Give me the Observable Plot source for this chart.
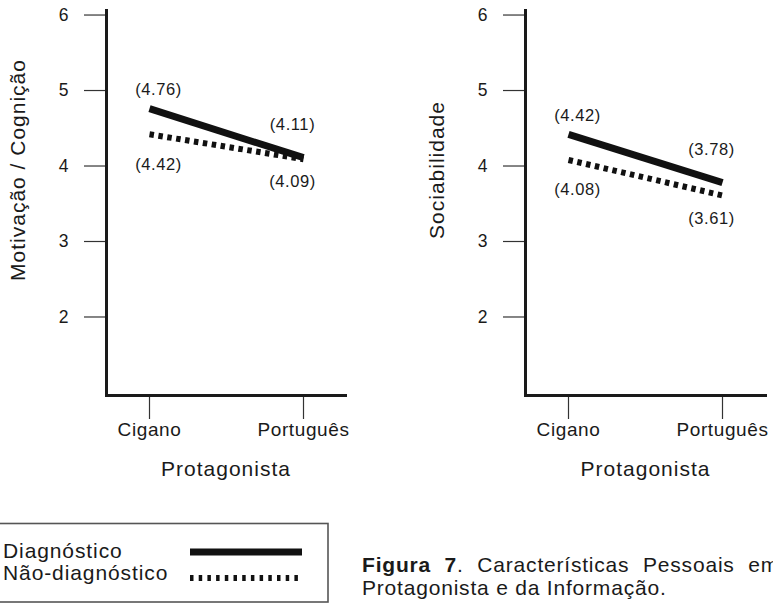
<!DOCTYPE html>
<html>
<head>
<meta charset="utf-8">
<script src="https://cdn.jsdelivr.net/npm/d3@7"></script>
<script src="https://cdn.jsdelivr.net/npm/@observablehq/plot@0.6"></script>
<style>
  body { margin: 0; background: #fff; }
  #root { position: relative; width: 773px; height: 610px; overflow: hidden;
          font-family: "Liberation Sans", Arial, Helvetica, sans-serif; color: #1a1a1a; }
  .panel { position: absolute; top: 0; }
  .panel svg { overflow: visible; }
  .leg text { letter-spacing: 0.9px; }
  .cap text { letter-spacing: 0.8px; }
</style>
</head>
<body>
<div id="root"></div>
<script>
// ---- data ----
const categories = ["Cigano", "Português"];
const conditions = ["Diagnóstico", "Não-diagnóstico"];
const yTicks = [2, 3, 4, 5, 6];
const xTitle = "Protagonista";
const panelTitles = ["Motivação / Cognição", "Sociabilidade"];
const motivacaoDiag = [4.76, 4.11];
const motivacaoNaoDiag = [4.42, 4.09];
const sociabilidadeDiag = [4.42, 3.78];
const sociabilidadeNaoDiag = [4.08, 3.61];
const captionBold = "Figura 7";
const captionLine1 = ". Características Pessoais em";
const captionLine2 = "Protagonista e da Informação.";

const FONT = '"Liberation Sans", Arial, Helvetica, sans-serif';
const INK = "#1a1a1a";

function panel(title, diag, naoDiag, width, marginRight) {
  const rows = categories.flatMap((c, i) => [
    {cat: c, cond: conditions[0], value: diag[i]},
    {cat: c, cond: conditions[1], value: naoDiag[i]}
  ]);
  const D = rows.filter(d => d.cond === conditions[0]);
  const N = rows.filter(d => d.cond === conditions[1]);
  const at = (arr, cat) => arr.filter(d => d.cat === cat);
  const fmt = d => `(${d.value.toFixed(2)})`;
  const lbl = {x: "cat", y: "value", text: fmt, fontSize: 16.5, fill: INK};
  const svg = Plot.plot({
    width, height: 490,
    marginLeft: 106, marginRight, marginTop: 10, marginBottom: 95,
    style: {fontFamily: FONT, fontSize: "16px", color: INK, background: "transparent", overflow: "visible"},
    x: {type: "point", domain: categories, padding: 0.275},
    y: {domain: [0.96, 6.06]},
    marks: [
      Plot.axisY(yTicks, {tickSize: 22, tickPadding: 16, fontSize: 17, tickFormat: d3.format("d"), stroke: "#333", strokeWidth: 1.2, label: null}),
      Plot.axisX(categories, {tickSize: 24, tickPadding: 3, fontSize: 19, stroke: "#333", strokeWidth: 1.2, label: null}),
      Plot.frame({anchor: "left", stroke: INK, strokeWidth: 3}),
      Plot.frame({anchor: "bottom", stroke: INK, strokeWidth: 3}),
      Plot.text([title], {frameAnchor: "left", textAnchor: "middle", lineAnchor: "middle", rotate: -90, dx: -88, dy: -33, fontSize: 21, fill: INK}),
      Plot.text([xTitle], {frameAnchor: "bottom", textAnchor: "middle", lineAnchor: "middle", dy: 74, fontSize: 21, fill: INK}),
      Plot.line(D, {x: "cat", y: "value", stroke: "#111", strokeWidth: 7, strokeLinecap: "butt"}),
      Plot.line(N, {x: "cat", y: "value", stroke: "#111", strokeWidth: 6, strokeLinecap: "butt", strokeDasharray: "4.5,4.5"}),
      Plot.text(at(D, categories[0]), {...lbl, dx: 9, dy: -19}),
      Plot.text(at(N, categories[0]), {...lbl, dx: 9, dy: 30}),
      Plot.text(at(D, categories[1]), {...lbl, dx: -11, dy: -33}),
      Plot.text(at(N, categories[1]), {...lbl, dx: -11, dy: 23})
    ]
  });
  // text tweaks, chosen by the text's role
  const tickStrings = yTicks.map(String);
  svg.querySelectorAll("text").forEach(t => {
    const s = t.textContent;
    if (s === xTitle || panelTitles.includes(s)) t.style.letterSpacing = "1px";
    else if (categories.includes(s)) { t.style.letterSpacing = "0.6px"; t.style.fontSize = "19px"; }
    else if (s.startsWith("(")) t.style.letterSpacing = "0.6px";
    else if (tickStrings.includes(s)) { t.style.fontSize = "17.5px"; t.style.letterSpacing = "0px"; }
  });
  return svg;
}

const root = document.getElementById("root");
const left = document.createElement("div");
left.className = "panel"; left.style.left = "0px";
left.appendChild(panel(panelTitles[0], motivacaoDiag, motivacaoNaoDiag, 380, 35));
root.appendChild(left);

const right = document.createElement("div");
right.className = "panel"; right.style.left = "419px";
right.appendChild(panel(panelTitles[1], sociabilidadeDiag, sociabilidadeNaoDiag, 354, 8));
root.appendChild(right);

// ---- legend + caption ----
const svg = d3.create("svg").attr("width", 773).attr("height", 110)
  .style("position", "absolute").style("left", "0px").style("top", "500px")
  .style("font-family", FONT);
svg.append("rect").attr("x", -1).attr("y", 23.5).attr("width", 329).attr("height", 78.5)
  .attr("fill", "none").attr("stroke", "#555").attr("stroke-width", 1.6);
const leg = svg.append("g").attr("class", "leg").attr("font-size", 21).attr("fill", INK);
leg.append("text").attr("x", 3).attr("y", 58).text(conditions[0]);
leg.append("text").attr("x", 3).attr("y", 80).text(conditions[1]);
svg.append("line").attr("x1", 190).attr("x2", 302).attr("y1", 52).attr("y2", 52)
  .attr("stroke", "#111").attr("stroke-width", 7);
svg.append("line").attr("x1", 190).attr("x2", 302).attr("y1", 78).attr("y2", 78)
  .attr("stroke", "#111").attr("stroke-width", 6).attr("stroke-dasharray", "3.5,5.2");
const cap = svg.append("g").attr("class", "cap").attr("font-size", 21).attr("fill", INK);
const t1 = cap.append("text").attr("x", 362).attr("y", 72).attr("word-spacing", 7);
t1.append("tspan").attr("font-weight", "bold").text(captionBold);
t1.append("tspan").text(captionLine1);
cap.append("text").attr("x", 362).attr("y", 95).text(captionLine2);
root.appendChild(svg.node());
</script>
</body>
</html>
